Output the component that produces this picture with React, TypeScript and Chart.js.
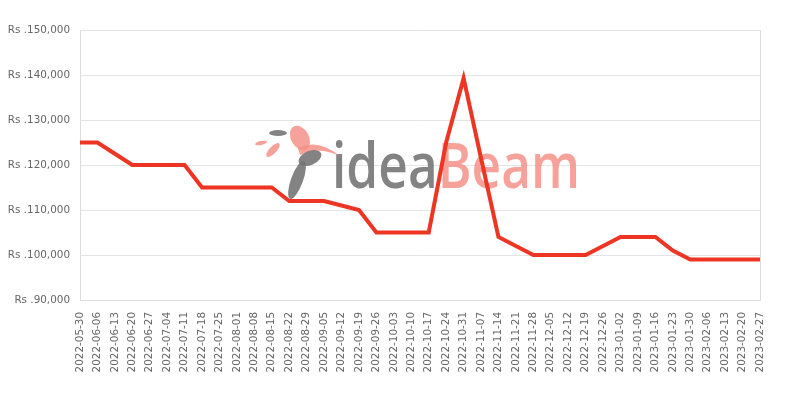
import React, { useEffect, useRef } from "react";
import { Chart, registerables } from "chart.js";

Chart.register(...registerables);

const labels: string[] = [
  "2022-05-30", "2022-06-06", "2022-06-13", "2022-06-20", "2022-06-27", "2022-07-04", "2022-07-11",
  "2022-07-18", "2022-07-25", "2022-08-01", "2022-08-08", "2022-08-15", "2022-08-22", "2022-08-29",
  "2022-09-05", "2022-09-12", "2022-09-19", "2022-09-26", "2022-10-03", "2022-10-10", "2022-10-17",
  "2022-10-24", "2022-10-31", "2022-11-07", "2022-11-14", "2022-11-21", "2022-11-28", "2022-12-05",
  "2022-12-12", "2022-12-19", "2022-12-26", "2023-01-02", "2023-01-09", "2023-01-16", "2023-01-23",
  "2023-01-30", "2023-02-06", "2023-02-13", "2023-02-20", "2023-02-27",
];

const prices: number[] = [
  125000, 125000, 122500, 120000, 120000, 120000, 120000,
  115000, 115000, 115000, 115000, 115000, 112000, 112000,
  112000, 111000, 110000, 105000, 105000, 105000, 105000,
  125000, 139300, 121500, 104000, 102000, 100000, 100000,
  100000, 100000, 102000, 104000, 104000, 104000, 101000,
  99000, 99000, 99000, 99000, 99000,
];

const yMin = 90000;
const yMax = 150000;
const yStep = 10000;

const GRAY = "rgba(118,118,118,0.9)";
const SALMON = "rgba(245,145,135,0.85)";

function ell(ctx: any, x: number, y: number, rx: number, ry: number, rot: number) {
  ctx.beginPath();
  ctx.ellipse(x, y, rx, ry, rot, 0, Math.PI * 2);
  ctx.fill();
}

const watermark = {
  id: "watermark",
  beforeDatasetsDraw(chart: any) {
    const { ctx, chartArea } = chart;
    const cx = (chartArea.left + chartArea.right) / 2;
    const cy = (chartArea.top + chartArea.bottom) / 2;
    ctx.save();
    const ox = cx - 88;
    const oy = cy + 23;
    const fs = 64;
    ctx.font = `600 ${fs}px 'Open Sans', 'DejaVu Sans', sans-serif`;
    const a = ctx.measureText("idea").width;
    const b = ctx.measureText("Beam").width;
    const sx = 248 / (a + b);
    ctx.save();
    ctx.translate(ox, oy);
    ctx.scale(sx, 1);
    ctx.textBaseline = "alphabetic";
    ctx.fillStyle = GRAY;
    ctx.fillText("idea", 0, 0);
    ctx.fillStyle = SALMON;
    ctx.fillText("Beam", a, 0);
    ctx.restore();

    // bird (rough)
    ctx.translate(ox, oy);
    ctx.fillStyle = SALMON;
    ell(ctx, -32, -50, 9, 13, -0.5);
    ctx.beginPath();
    ctx.moveTo(-34, -40);
    ctx.quadraticCurveTo(-14, -50, 8, -32);
    ctx.quadraticCurveTo(-14, -42, -32, -33);
    ctx.closePath();
    ctx.fill();
    ell(ctx, -71, -45, 6, 2, -0.2);
    ell(ctx, -59, -38, 9, 3.5, -0.8);
    ctx.fillStyle = GRAY;
    ell(ctx, -22, -30, 12, 7, -0.4);
    ell(ctx, -35, -8, 6, 20, 0.35);
    ell(ctx, -54, -55, 9, 3, 0);
    ctx.restore();
  },
  afterDraw(chart: any) {
    const { ctx, chartArea } = chart;
    ctx.save();
    ctx.strokeStyle = "#dddddd";
    ctx.lineWidth = 1;
    ctx.beginPath();
    ctx.moveTo(Math.round(chartArea.right) + 0.5, chartArea.top);
    ctx.lineTo(Math.round(chartArea.right) + 0.5, chartArea.bottom);
    ctx.stroke();
    ctx.restore();
  },
};

export default function App() {
  const ref = useRef<HTMLCanvasElement | null>(null);
  useEffect(() => {
    if (!ref.current) return;
    const chart = new Chart(ref.current, {
      type: "line",
      data: {
        labels,
        datasets: [
          {
            data: prices,
            borderColor: "#ee3524",
            backgroundColor: "#ee3524",
            borderWidth: 4,
            pointRadius: 0,
            tension: 0,
            fill: false,
          },
        ],
      },
      options: {
        animation: false,
        responsive: false,
        layout: { padding: { top: 30, right: 40, left: 0, bottom: 0 } },
        plugins: { legend: { display: false }, tooltip: { enabled: false } },
        scales: {
          x: {
            grid: { display: false, drawTicks: false },
            border: { color: "#dddddd" },
            ticks: {
              autoSkip: false,
              maxRotation: 90,
              minRotation: 90,
              padding: 12,
              color: "#666",
              font: { family: "'DejaVu Sans', sans-serif", size: 10.4 },
            },
            afterFit: (s: any) => {
              s.height = 100;
            },
          },
          y: {
            min: yMin,
            max: yMax,
            ticks: {
              stepSize: yStep,
              padding: 10,
              color: "#666",
              font: { family: "'DejaVu Sans', sans-serif", size: 10.4 },
              callback: (v: any) => "Rs ." + Number(v).toLocaleString("en-US"),
            },
            grid: { color: "#e4e4e4", drawTicks: false },
            border: { color: "#dddddd" },
            afterFit: (s: any) => {
              s.width = 80;
            },
          },
        },
      },
      plugins: [watermark],
    });
    return () => chart.destroy();
  }, []);
  return (
    <div style={{ position: "absolute", left: 0, top: 0, width: 800, height: 400, background: "#fff" }}>
      <canvas ref={ref} width={800} height={400} style={{ width: 800, height: 400 }} />
    </div>
  );
}
